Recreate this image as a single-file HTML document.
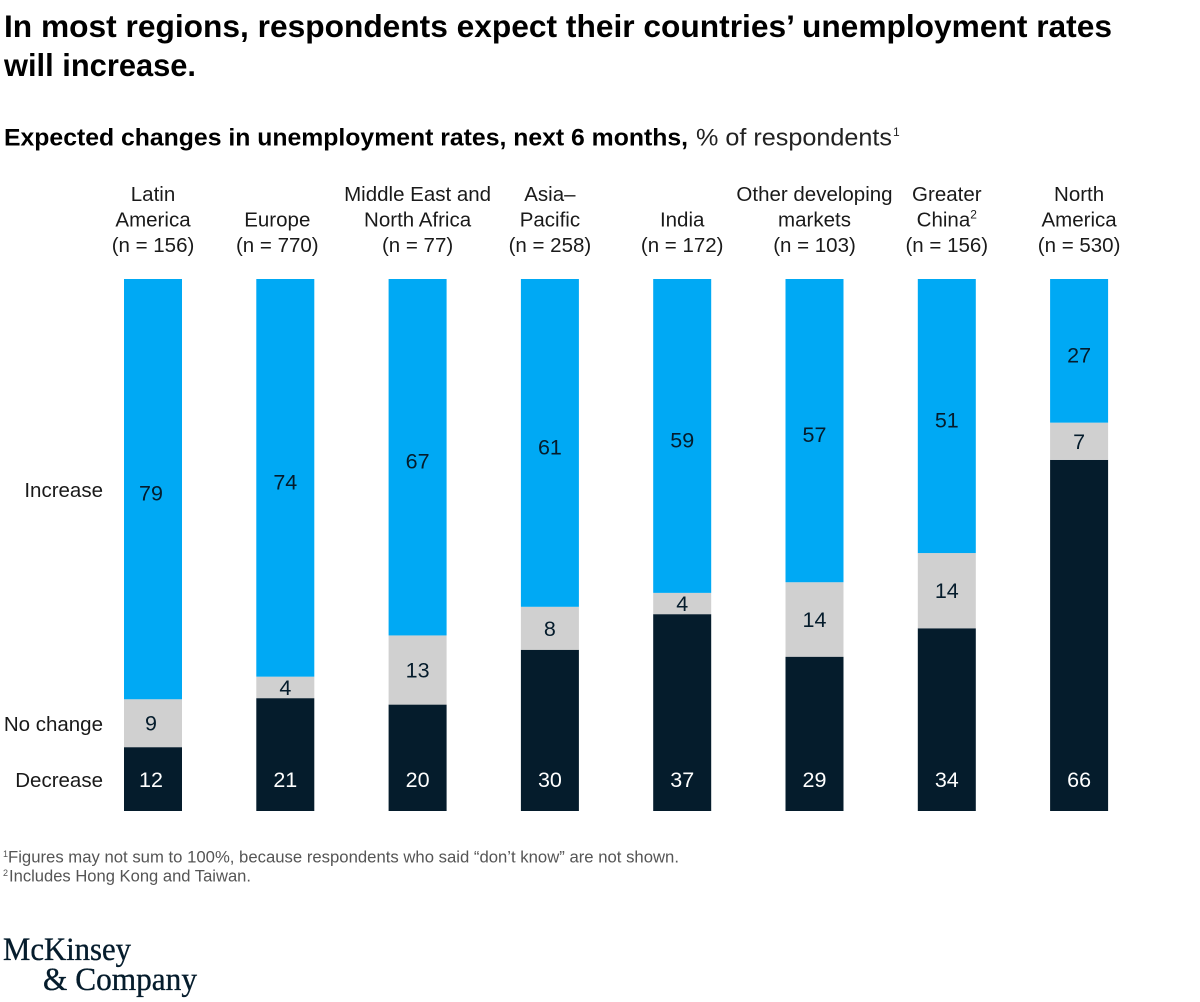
<!DOCTYPE html>
<html lang="en">
<head>
<meta charset="utf-8">
<title>Expected changes in unemployment rates</title>
<style>
html,body{margin:0;padding:0;background:#fff;}
svg{display:block;font-family:"Liberation Sans",sans-serif;}
</style>
</head>
<body>
<svg id="chart" xmlns="http://www.w3.org/2000/svg" width="1200" height="1002" viewBox="0 0 1200 1002">
  <text x="4" y="37" font-size="31.5" font-weight="700" fill="#000" textLength="1108" lengthAdjust="spacingAndGlyphs">In most regions, respondents expect their countries’ unemployment rates</text>
  <text x="4" y="76" font-size="31.5" font-weight="700" fill="#000" textLength="192" lengthAdjust="spacingAndGlyphs">will increase.</text>
  <text x="4" y="145.5" font-size="24" font-weight="700" fill="#000" textLength="684" lengthAdjust="spacingAndGlyphs">Expected changes in unemployment rates, next 6 months,</text>
  <text x="696" y="145.5" font-size="24" fill="#222" textLength="196" lengthAdjust="spacingAndGlyphs">% of respondents</text>
  <text x="893" y="136" font-size="12" fill="#222">1</text>

  <g id="headers"></g>
  <g id="bars"></g>
  <g id="legend"></g>

  <text x="3" y="857" font-size="9" fill="#555">1</text>
  <text x="8" y="862.5" font-size="16.5" fill="#555" textLength="671" lengthAdjust="spacingAndGlyphs">Figures may not sum to 100%, because respondents who said “don’t know” are not shown.</text>
  <text x="3" y="876" font-size="9" fill="#555">2</text>
  <text x="9" y="881.5" font-size="16.5" fill="#555" textLength="242" lengthAdjust="spacingAndGlyphs">Includes Hong Kong and Taiwan.</text>

  <g font-family="'Liberation Serif',serif" fill="#051c2c" stroke="#051c2c" stroke-width="0.35">
    <text x="3" y="960" font-size="33" textLength="128" lengthAdjust="spacingAndGlyphs">McKinsey</text>
    <text x="43" y="990" font-size="33" textLength="154" lengthAdjust="spacingAndGlyphs">&amp; Company</text>
  </g>
</svg>
<script>
const categories = ["Latin America", "Europe", "Middle East and North Africa", "Asia–Pacific", "India", "Other developing markets", "Greater China", "North America"];
const headerLines = [["Latin", "America"], ["Europe"], ["Middle East and", "North Africa"], ["Asia–", "Pacific"], ["India"], ["Other developing", "markets"], ["Greater", "China"], ["North", "America"]];
const sampleSizes = [156, 770, 77, 258, 172, 103, 156, 530];
const increaseValues = [79, 74, 67, 61, 59, 57, 51, 27];
const noChangeValues = [9, 4, 13, 8, 4, 14, 14, 7];
const decreaseValues = [12, 21, 20, 30, 37, 29, 34, 66];
const rowLabels = ["Increase", "No change", "Decrease"];

const SVGNS = "http://www.w3.org/2000/svg";
const plotTop = 279, plotBottom = 811, firstBarX = 124, barStep = 132.3, barWidth = 58;
const barsGroup = document.getElementById("bars");
const headersGroup = document.getElementById("headers");
const legendGroup = document.getElementById("legend");

function xBand(i) { return firstBarX + i * barStep; }
function yScale(share) { return plotBottom - share * (plotBottom - plotTop); }

function makeText(parent, x, y, str, size, fill, anchor) {
  const t = document.createElementNS(SVGNS, "text");
  t.setAttribute("x", x);
  t.setAttribute("y", y);
  t.setAttribute("font-size", size);
  t.setAttribute("fill", fill);
  t.setAttribute("text-anchor", anchor);
  t.textContent = str;
  parent.appendChild(t);
  return t;
}

function drawSegment(i, startShare, endShare, value, color, textColor, seriesName, labelY) {
  const x = xBand(i);
  const yTop = yScale(endShare);
  const yBottom = yScale(startShare);
  const r = document.createElementNS(SVGNS, "rect");
  r.setAttribute("x", x);
  r.setAttribute("y", yTop);
  r.setAttribute("width", barWidth);
  r.setAttribute("height", yBottom - yTop);
  r.setAttribute("fill", color);
  
  
  barsGroup.appendChild(r);
  const baseline = labelY(yTop, yBottom);
  const t = makeText(barsGroup, x + barWidth / 2 + (i === 0 ? -2 : 0), baseline, String(value), 21.5, textColor, "middle");
  
  
}

categories.forEach(function (name, i) {
  const total = decreaseValues[i] + noChangeValues[i] + increaseValues[i];
  const a = decreaseValues[i] / total;
  const b = a + noChangeValues[i] / total;
  drawSegment(i, 0, a, decreaseValues[i], "#051c2c", "#fff", "decrease", function () { return plotBottom - 24; });
  drawSegment(i, a, b, noChangeValues[i], "#d0d0d0", "#051c2c", "no-change", function (t, bt) { return (t + bt) / 2 + 7.5; });
  drawSegment(i, b, 1, increaseValues[i], "#00a9f4", "#051c2c", "increase", function (t, bt) { return (t + bt) / 2 + 11.5; });

  const cx = xBand(i) + barWidth / 2 + (name === "Europe" ? -8 : 0);
  const lines = headerLines[i].concat(["(n = " + sampleSizes[i] + ")"]);
  lines.forEach(function (line, k) {
    const y = 252 - (lines.length - 1 - k) * 25.5;
    const t = makeText(headersGroup, cx, y, line, 20.5, "#1a1a1a", "middle");
    
    
    if (name === "Greater China" && k === 1) {
      const s = document.createElementNS(SVGNS, "tspan");
      s.setAttribute("font-size", "12");
      s.setAttribute("dy", "-8");
      s.textContent = "2";
      t.appendChild(s);
    }
  });
});

rowLabels.forEach(function (label, k) {
  const values = [increaseValues[0], noChangeValues[0], decreaseValues[0]];
  const total = values[0] + values[1] + values[2];
  const before = values.slice(k + 1).reduce(function (s, v) { return s + v; }, 0);
  const mid = (before + values[k] / 2) / total;
  const t = makeText(legendGroup, 103, yScale(mid) + 8, label, 20.5, "#1a1a1a", "end");
  
  
});
</script>
</body>
</html>
